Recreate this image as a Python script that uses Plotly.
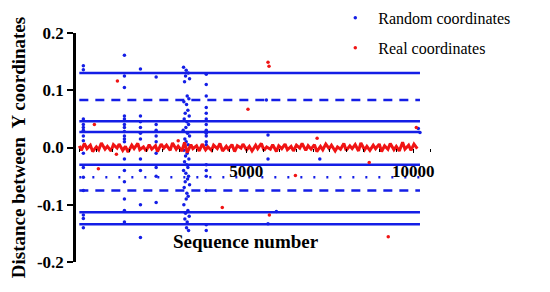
import plotly.graph_objects as go

# horizontal bands formed by the random-coordinate points
solid_levels = [0.130, 0.046, 0.027, -0.030, -0.113, -0.134]
dash_levels = [0.083, -0.075]
dot_levels = [-0.052]
band_start, band_end = 0, 10200

# vertical clusters of random-coordinate points
blue_x = ([120] * 15 + [1350] * 17 + [1830] * 10 + [2300] * 9 +
          [3120, 3200, 3260, 3180, 3300, 3150, 3230, 3280, 3130, 3210, 3250, 3170,
           3290, 3140, 3220, 3270, 3190, 3110, 3240, 3300, 3160, 3200, 3260, 3130,
           3230, 3180, 3280, 3150, 3210, 3250, 3120, 3190, 3270, 3240, 3170, 3300,
           3140, 3220, 3260, 3200, 3130, 3250, 3180, 3290, 3160, 3230, 3210, 3270] +
          [3800] * 18 + [5600, 5650, 5650, 5900, 5650, 7200, 10150, 10200])
blue_y = ([0.143, 0.136, 0.050, 0.040, 0.035, 0.030, 0.020, 0.012, -0.010, -0.035,
           -0.052, -0.075, -0.118, -0.124, -0.140] +
          [0.161, 0.125, 0.105, 0.055, 0.050, 0.040, 0.035, 0.028, 0.020, 0.015,
           0.010, -0.020, -0.040, -0.060, -0.090, -0.110, -0.130] +
          [0.137, 0.055, 0.045, 0.035, 0.025, 0.015, -0.020, -0.040, -0.100, -0.157] +
          [0.123, 0.040, 0.030, 0.020, 0.010, -0.010, -0.035, -0.050, -0.096] +
          [0.140, 0.135, 0.130, 0.125, 0.120, 0.115, 0.090, 0.085, 0.080, 0.075,
           0.065, 0.060, 0.055, 0.050, 0.045, 0.040, 0.035, 0.030, 0.025, 0.020,
           0.015, 0.010, 0.005, -0.005, -0.010, -0.015, -0.020, -0.025, -0.030,
           -0.035, -0.040, -0.045, -0.050, -0.055, -0.060, -0.065, -0.070, -0.080,
           -0.085, -0.090, -0.100, -0.110, -0.115, -0.120, -0.125, -0.130, -0.140,
           -0.145] +
          [0.128, 0.110, 0.090, 0.070, 0.060, 0.050, 0.040, 0.030, 0.025, 0.020,
           0.010, 0.005, -0.030, -0.040, -0.050, -0.075, -0.135, -0.145] +
          [0.083, 0.022, -0.020, -0.112, -0.133, -0.020, 0.033, 0.026])

# real coordinates: dense band around zero
red_x = [0, 60, 150, 230, 330, 400, 510, 580, 660, 770, 840, 950, 1020, 1130, 1190,
         1300, 1380, 1460, 1570, 1640, 1750, 1810, 1920, 2000, 2090, 2170, 2280,
         2340, 2450, 2530, 2610, 2720, 2790, 2900, 2960, 3070, 3150, 3230, 3340,
         3400, 3510, 3590, 3680, 3780, 3850, 3960, 4020, 4130, 4210, 4290, 4400,
         4460, 4570, 4650, 4730, 4840, 4900, 5010, 5090, 5170, 5280, 5340, 5450,
         5530, 5610, 5720, 5790, 5900, 5970, 6060, 6160, 6230, 6340, 6410, 6500,
         6600, 6670, 6780, 6850, 6940, 7040, 7110, 7220, 7290, 7380, 7480, 7550,
         7660, 7730, 7820, 7920, 7990, 8100, 8170, 8260, 8360, 8430, 8540, 8610,
         8700, 8800, 8870, 8980, 9050, 9140, 9240, 9310, 9420, 9490, 9580, 9680,
         9750, 9860, 9930, 10020, 10120]
red_y = [0.003, -0.005, 0.007, -0.002, 0.004, -0.007, 0.001, -0.004, 0.008, -0.003,
         0.002, -0.006, 0.005, -0.001, 0.006, -0.005, 0.002, -0.008, 0.004, -0.002,
         0.007, -0.004, 0.001, -0.006, 0.005, -0.003, 0.003, -0.007, 0.006, -0.001,
         0.004, -0.005, 0.008, -0.003, 0.002, -0.006, 0.009, -0.009, 0.005, -0.002,
         0.003, -0.006, 0.006, -0.004, 0.001, -0.005, 0.004, -0.002, 0.007, -0.006,
         0.002, -0.003, 0.005, -0.007, 0.003, -0.001, 0.006, -0.004, 0.002, -0.006,
         0.004, -0.002, 0.007, -0.005, 0.001, -0.003, 0.005, -0.007, 0.003, -0.002,
         0.006, -0.004, 0.002, -0.006, 0.004, -0.001, 0.007, -0.005, 0.003, -0.003,
         0.005, -0.007, 0.002, -0.004, 0.006, -0.002, 0.004, -0.006, 0.001, -0.003,
         0.007, -0.005, 0.003, -0.002, 0.005, -0.006, 0.008, -0.004, 0.002, -0.005,
         0.004, -0.002, 0.006, -0.007, 0.003, -0.003, 0.007, -0.004, 0.002, -0.006,
         0.009, -0.003, 0.004, -0.005, 0.006, -0.002]
red_out_x = [1140, 450, 5650, 5680, 5050, 7120, 10090, 4280, 5690, 6470, 8680, 9250,
             570, 1110, 2960]
red_out_y = [0.116, 0.040, 0.149, 0.142, 0.067, 0.016, 0.035, -0.105, -0.118, -0.049,
             -0.026, -0.156, -0.037, -0.012, 0.012]

x_ticks = [5000, 10000]
y_ticks = [-0.2, -0.1, 0.0, 0.1, 0.2]

blue = 'rgb(20,30,230)'
red = 'rgb(240,20,20)'
serif = 'Liberation Serif'

data = []
for lvl in solid_levels:
    data.append(go.Scatter(x=[band_start, band_end], y=[lvl, lvl], mode='lines',
                           line=dict(color=blue, width=2.5), showlegend=False))
for lvl in dash_levels:
    data.append(go.Scatter(x=[band_start, band_end], y=[lvl, lvl], mode='lines',
                           line=dict(color=blue, width=2.5, dash='9px,7px'),
                           showlegend=False))
for lvl in dot_levels:
    data.append(go.Scatter(x=[band_start, band_end], y=[lvl, lvl], mode='lines',
                           line=dict(color=blue, width=2.5, dash='2px,11px'),
                           showlegend=False))

data.append(go.Scatter(x=blue_x, y=blue_y, mode='markers', name='Random coordinates',
                       legendgroup='a', marker=dict(color=blue, size=3.5)))
data.append(go.Scatter(x=red_x, y=red_y, mode='lines', showlegend=False,
                       line=dict(color=red, width=3)))
data.append(go.Scatter(x=red_out_x, y=red_out_y, mode='markers', name='Real coordinates',
                       legendgroup='b', marker=dict(color=red, size=3.5)))

# note: the page body adds an 8px offset, margins are set to compensate
layout = go.Layout(
    width=550, height=292,
    margin=dict(l=68, r=128, t=25, b=38, autoexpand=False),
    plot_bgcolor='white', paper_bgcolor='white',
    font=dict(family=serif, color='black'),
    showlegend=True,
    legend=dict(x=0.724, y=1.14, xanchor='left', yanchor='top',
                font=dict(family=serif, size=16), bgcolor='rgba(0,0,0,0)',
                itemwidth=36, tracegroupgap=6),
    xaxis=dict(range=[-100, 10500], anchor='free', position=0.5,
               tickvals=x_ticks, ticktext=[str(v) for v in x_ticks],
               ticks='outside', ticklen=4, tickcolor='black', ticklabelstandoff=4,
               tickfont=dict(family=serif, size=17, color='black', weight='bold'),
               showline=False, showgrid=False, zeroline=False,
               minor=dict(dtick=500, ticks='outside', ticklen=3, tickcolor='black')),
    yaxis=dict(range=[-0.2, 0.2], tickvals=y_ticks,
               ticktext=['%.1f' % v for v in y_ticks],
               ticks='outside', ticklen=6, tickwidth=2, tickcolor='black',
               showline=True, linewidth=2.5, linecolor='black',
               showgrid=False, zeroline=False,
               tickfont=dict(family=serif, size=17, color='black', weight='bold'),
               title=dict(text='<b>Distance between  Y coordinates</b>',
                          font=dict(family=serif, size=19), standoff=11)),
    annotations=[dict(text='<b>Sequence number</b>', x=0.48, y=0.09, xref='paper',
                      yref='paper', showarrow=False, xanchor='center', yanchor='middle',
                      font=dict(family=serif, size=19, color='black'))]
)

fig = go.Figure(data=data, layout=layout)
fig.write_html('out.html')
